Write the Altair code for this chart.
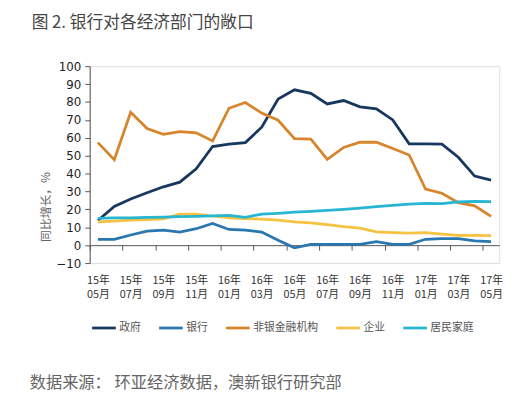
import json
import altair as alt
import pandas as pd

months = ["15年05月", "15年06月", "15年07月", "15年08月", "15年09月", "15年10月",
          "15年11月", "15年12月", "16年01月", "16年02月", "16年03月", "16年04月",
          "16年05月", "16年06月", "16年07月", "16年08月", "16年09月", "16年10月",
          "16年11月", "16年12月", "17年01月", "17年02月", "17年03月", "17年04月",
          "17年05月"]

series_names = ["政府", "银行", "非银金融机构", "企业", "居民家庭"]
series_colors = ["#17375E", "#2877B0", "#D8842A", "#F5C242", "#26B6D2"]

gov = [13.8, 21.6, 25.8, 29.3, 32.6, 35.2, 42.7, 55.1, 56.4, 57.3, 65.9, 81.7,
       86.8, 84.8, 78.9, 80.8, 77.3, 76.2, 70.0, 56.6, 56.6, 56.4, 49.1, 38.6, 36.3]
bank = [3.3, 3.3, 5.7, 7.9, 8.4, 7.3, 9.2, 12.1, 8.8, 8.4, 7.3, 2.7,
        -1.5, 0.5, 0.5, 0.5, 0.5, 2.0, 0.4, 0.5, 3.3, 3.7, 3.7, 2.4, 2.0]
nonbank = [57.3, 47.8, 74.3, 65.2, 61.9, 63.4, 62.8, 58.2, 76.5, 79.7, 73.8, 69.8,
           59.5, 59.3, 48.0, 54.6, 57.5, 57.5, 54.0, 50.4, 31.3, 29.0, 23.8, 22.0, 16.1]
corp = [13.0, 13.5, 14.0, 14.3, 14.7, 17.3, 17.4, 16.3, 15.2, 14.8, 14.6, 14.0,
        13.0, 12.5, 11.5, 10.3, 9.5, 7.4, 7.0, 6.8, 7.0, 6.2, 5.5, 5.5, 5.3]
household = [15.0, 15.2, 15.3, 15.5, 15.7, 15.9, 16.1, 16.4, 16.6, 15.6, 17.4, 17.8,
             18.4, 18.9, 19.4, 20.0, 20.7, 21.5, 22.3, 23.0, 23.3, 23.2, 24.2, 24.4, 24.3]

title_text = "图 2. 银行对各经济部门的敞口"
source_text = "数据来源： 环亚经济数据，澳新银行研究部"
y_title = "同比增长，%"

rows = []
for name, vals in zip(series_names, [gov, bank, nonbank, corp, household]):
    for i, v in enumerate(vals):
        rows.append({"idx": i, "month": months[i], "series": name, "value": v})
df = pd.DataFrame(rows)

W, H = 416, 200
half = W / len(months) / 2
zero_off = -(H - H * 100 / 110)

M = json.dumps(months, ensure_ascii=False)
label_expr = f"[substring({M}[datum.value],0,3), substring({M}[datum.value],3)]"

CJK = "Noto Sans CJK SC"

lines = alt.Chart(df).mark_line(strokeWidth=2.8).encode(
    x=alt.X("idx:Q",
            scale=alt.Scale(domain=[-0.5, len(months) - 0.5], nice=False, zero=False),
            axis=alt.Axis(values=list(range(0, len(months), 2)), title=None,
                          offset=zero_off, tickOffset=-half, labelOffset=half,
                          labelExpr=label_expr, tickSize=5, labelPadding=25,
                          labelFont=CJK, labelFontSize=11, labelColor="#333",
                          labelLineHeight=14, labelAngle=0,
                          domainColor="#555", tickColor="#555", grid=False)),
    y=alt.Y("value:Q",
            scale=alt.Scale(domain=[-10, 100], nice=False),
            axis=alt.Axis(values=list(range(-10, 101, 10)), title=None, tickSize=5,
                          labelPadding=4, labelFont="DejaVu Sans", labelFontSize=12,
                          labelColor="#222", domainColor="#555", tickColor="#555",
                          grid=False)),
    color=alt.Color("series:N",
                    scale=alt.Scale(domain=series_names, range=series_colors),
                    sort=series_names,
                    legend=alt.Legend(title=None, orient="none", direction="horizontal",
                                      legendX=1, legendY=252, symbolType="stroke",
                                      symbolSize=576, symbolStrokeWidth=2.8,
                                      labelFont=CJK, labelFontSize=11,
                                      labelColor="#555", labelOffset=2,
                                      columnPadding=12, padding=0)),
)

title = alt.Chart(pd.DataFrame({"t": [title_text]})).mark_text(
    align="left", baseline="middle", font=CJK, fontSize=17, color="#444"
).encode(text="t:N", x=alt.value(-59), y=alt.value(-44))

source = alt.Chart(pd.DataFrame({"t": [source_text]})).mark_text(
    align="left", baseline="middle", font=CJK, fontSize=16.5, color="#666"
).encode(text="t:N", x=alt.value(-61), y=alt.value(322))

ytitle = alt.Chart(pd.DataFrame({"t": [y_title]})).mark_text(
    align="center", baseline="middle", font=CJK, fontSize=12, color="#666", angle=270
).encode(text="t:N", x=alt.value(-44), y=alt.value(143))

chart = alt.layer(lines, title, source, ytitle).properties(
    width=W, height=H, autosize="none",
    padding={"left": 83, "top": 56, "right": 17, "bottom": 137},
).configure_view(stroke=None).configure(background="white")

chart.save("out.html", embed_options={"renderer": "svg", "actions": False})
